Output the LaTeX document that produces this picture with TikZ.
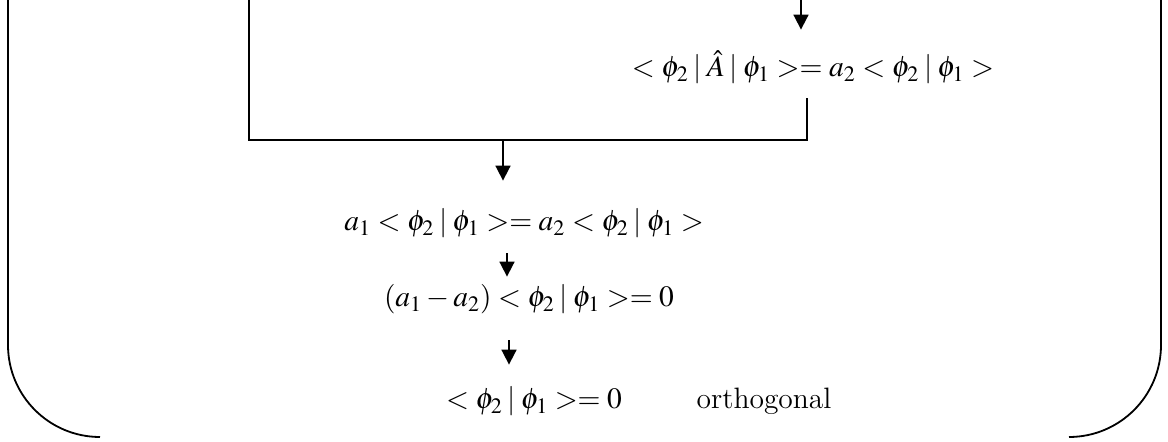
\documentclass[tikz,border=0pt]{standalone}
\usepackage{mathptmx}
\usetikzlibrary{arrows.meta}
\DeclareMathSizes{14.75}{14.75}{11}{8}
\newcommand{\vb}{\mskip3mu|\mskip3mu}
\newcommand{\eqfont}{\fontsize{14.75}{18}\selectfont\thickmuskip=4mu\relax}

\tikzset{
  eq/.style={inner sep=0pt, text height=11pt, text depth=4.5pt, anchor=base,
    font=\eqfont},
  arr/.style={line width=0.9pt, -{Triangle[length=7.5pt,width=7.5pt]}},
  wire/.style={line width=1.1pt},
  frame/.style={line width=0.9pt, rounded corners=46pt}
}

\begin{document}
\begin{tikzpicture}[x=0.5pt,y=-0.5pt]
\useasboundingbox (0,0) rectangle (1168,442);
% outer frame, open at the top and bottom
\coordinate (frameTL) at (8,0);
\coordinate (frameBL) at (100,437);
\coordinate (frameTR) at (1161,0);
\coordinate (frameBR) at (1069,437);
\draw[frame] (frameTL) |- (frameBL);
\draw[frame] (frameTR) |- (frameBR);

% the equations
\node[eq] (eqA) at (813,77) {$<\phi_2\vb\hat{A}\vb\phi_1>=a_2<\phi_2\vb\phi_1>$};
\node[eq] (eqB) at (524,231) {$a_1<\phi_2\vb\phi_1>=a_2<\phi_2\vb\phi_1>$};
\node[eq] (eqC) at (529,307) {$(a_1-a_2)<\phi_2\vb\phi_1>=0$};
\node[eq] (eqD) at (534,409) {$<\phi_2\vb\phi_1>=0$};
\node[eq] (orth) at (764,409) {orthogonal};

% joining bracket
\coordinate (topL) at (249,0);
\coordinate (topR) at (801,0);
\coordinate (joinR) at (807,140);
\coordinate (joinM) at (503,140);
\draw[wire] (topL) |- (joinR) -- ([yshift=-6pt]eqA.south -| joinR);

% arrows
\draw[arr] (topR) -- ([yshift=12.5pt]eqA.north -| topR);
\draw[arr] (joinM) -- ([yshift=14pt]eqB.north -| joinM);
\draw[arr, shorten <=6.5pt, shorten >=4pt] ([xshift=-8.5pt]eqB.south) -- ([xshift=-8.5pt]eqB.south |- eqC.north);
\draw[arr, shorten <=12pt, shorten >=11pt] ([xshift=-10pt]eqC.south) -- ([xshift=-10pt]eqC.south |- eqD.north);
\end{tikzpicture}
\end{document}
